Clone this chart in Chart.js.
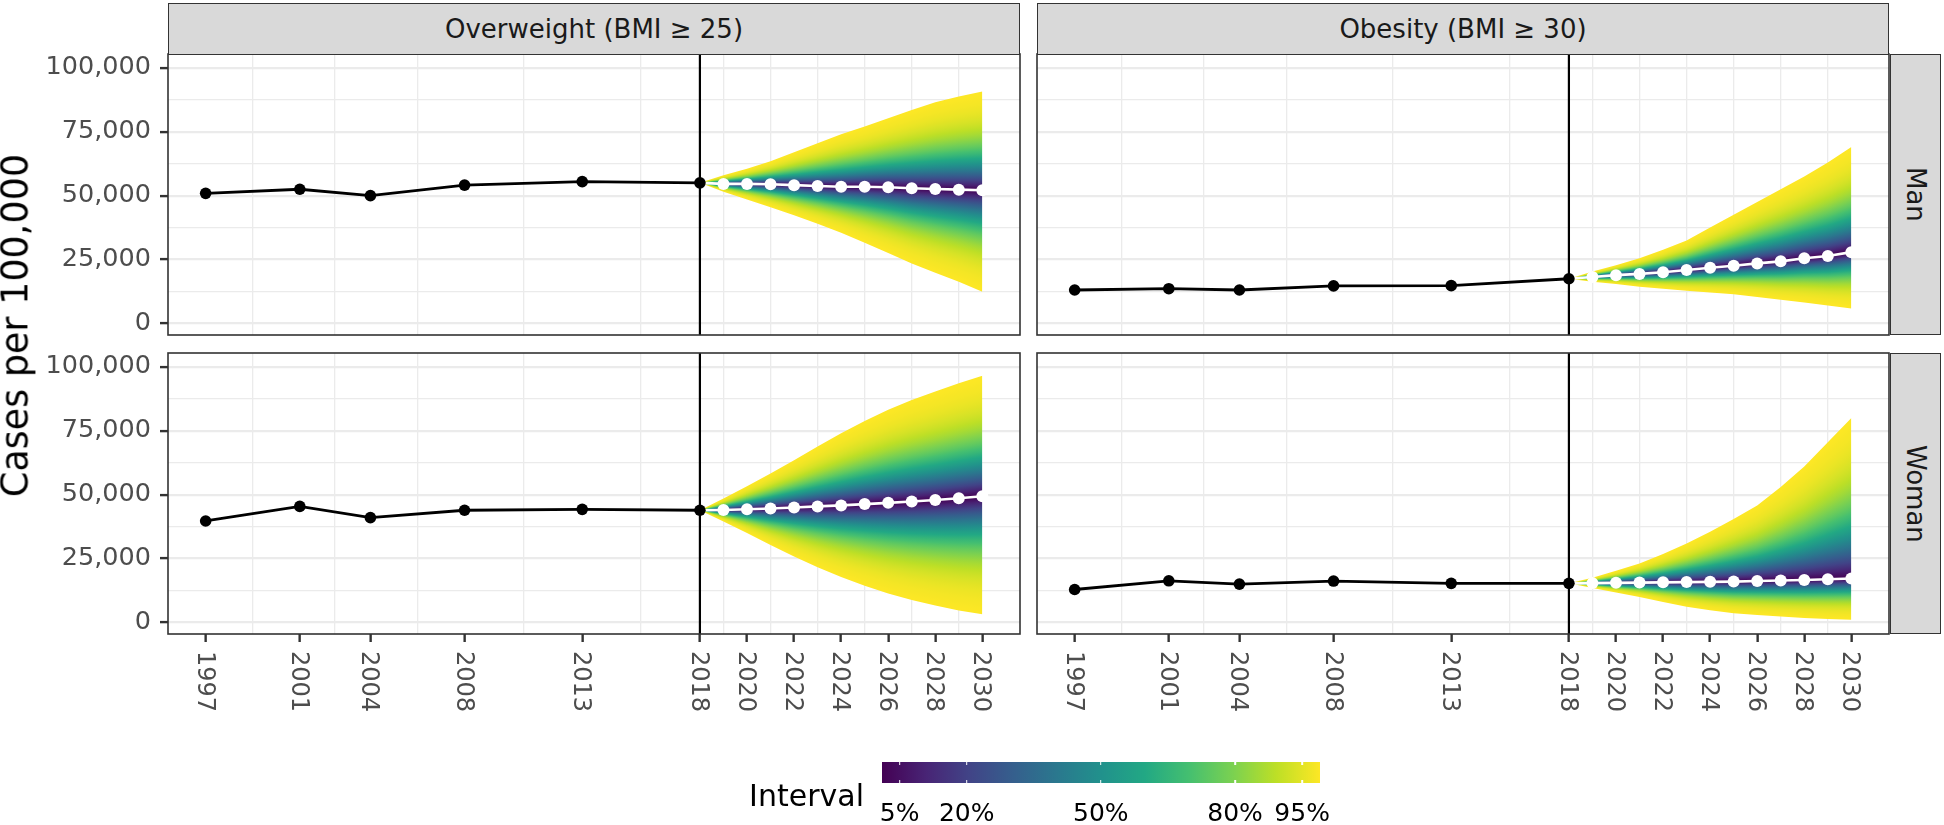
<!DOCTYPE html>
<html>
<head>
<meta charset="utf-8">
<script src="https://cdn.jsdelivr.net/npm/chart.js@4.4.1/dist/chart.umd.min.js"></script>
<style>
  body { margin: 0; background: #fff; font-family: "DejaVu Sans", sans-serif; }
  #figure { position: relative; width: 1944px; height: 825px; overflow: hidden; background: #fff; }
  #figure canvas { position: absolute; left: 0; top: 0; }
  .strip { position: absolute; box-sizing: border-box; background: #d9d9d9; border: 1.6px solid #333;
           color: #1a1a1a; font-size: 26px; display: flex; align-items: center; justify-content: center; }
  .strip.side span { writing-mode: vertical-rl; }
  .xlab { position: absolute; writing-mode: vertical-rl; transform: translateX(-50%); font-size: 24px;
          line-height: 1; color: #4d4d4d; white-space: nowrap; }
  #ytitle { position: absolute; left: 0; top: 0; font-size: 36.5px; color: #000; white-space: nowrap;
            writing-mode: vertical-rl; transform: rotate(180deg); line-height: 1; }
  #legend-title { position: absolute; right: 1080px; top: 781px; font-size: 30px; line-height: 1; color: #000; }
  #colorbar { position: absolute; left: 881.7px; top: 761.7px; width: 438.3px; height: 21.6px; }
  .cbtick { position: absolute; width: 1.6px; height: 3.6px; background: #fff; transform: translateX(-50%); }
  .cblab { position: absolute; top: 800px; font-size: 25px; line-height: 1; color: #000; transform: translateX(-50%); white-space: nowrap; }
</style>
</head>
<body>
<div id="figure">
  <canvas id="c00" width="1944" height="825"></canvas>
  <canvas id="c10" width="1944" height="825"></canvas>
  <canvas id="c01" width="1944" height="825"></canvas>
  <canvas id="c11" width="1944" height="825"></canvas>
</div>
<script>
// ---- data (cases per 100,000) ----
const OBS_YEARS = [1997, 2001, 2004, 2008, 2013, 2018];
const FC_YEARS = [2018, 2019, 2020, 2021, 2022, 2023, 2024, 2025, 2026, 2027, 2028, 2029, 2030];
const X_MAJOR = [1997, 2001, 2004, 2008, 2013, 2018, 2020, 2022, 2024, 2026, 2028, 2030];
const X_MINOR = [1999, 2002.5, 2006, 2010.5, 2015.5, 2019, 2021, 2023, 2025, 2027, 2029];
const Y_MAJOR = [0, 25000, 50000, 75000, 100000];
const Y_MINOR = [12500, 37500, 62500, 87500];
const VLINE_YEAR = 2018;
const COLUMN_LABELS = ["Overweight (BMI \u2265 25)", "Obesity (BMI \u2265 30)"];
const ROW_LABELS = ["Man", "Woman"];
const Y_TITLE = "Cases per 100,000";
const LEGEND_TITLE = "Interval";
const LEGEND_BREAKS = [5, 20, 50, 80, 95];
const LEGEND_LIMITS = [1, 99];

const overweightManObs = [50900, 52500, 50000, 54100, 55500, 55000];
const overweightManMedian = [55000, 54600, 54600, 54450, 54100, 53800, 53500, 53500, 53300, 52900, 52600, 52350, 52100];
const overweightManUpper = [55000, 58000, 60500, 63500, 67000, 70500, 74000, 77000, 80300, 83500, 86500, 88800, 90700];
const overweightManLower = [55000, 51500, 48500, 45500, 42300, 39000, 35500, 31600, 27600, 23500, 19800, 16300, 12400];

const obesityManObs = [13100, 13600, 13100, 14700, 14800, 17500];
const obesityManMedian = [17500, 18200, 18900, 19400, 20050, 20900, 21800, 22600, 23500, 24300, 25500, 26400, 27900];
const obesityManUpper = [17500, 20300, 22800, 25500, 28800, 32500, 37500, 42500, 47500, 52500, 57500, 63000, 69000];
const obesityManLower = [17500, 16300, 15400, 14400, 13600, 12800, 12100, 11400, 10400, 9300, 8200, 7000, 5900];

const overweightWomanObs = [39700, 45400, 41000, 43900, 44250, 43900];
const overweightWomanMedian = [43900, 44000, 44300, 44600, 45000, 45400, 45800, 46300, 46800, 47300, 47900, 48600, 49400];
const overweightWomanUpper = [43900, 48500, 53300, 58300, 63500, 68800, 74000, 78800, 83200, 87000, 90300, 93600, 96500];
const overweightWomanLower = [43900, 39500, 35000, 30300, 25800, 21600, 17800, 14400, 11300, 8800, 6600, 4700, 3200];

const obesityWomanObs = [12900, 16300, 15000, 16200, 15300, 15300];
const obesityWomanMedian = [15300, 15400, 15500, 15600, 15700, 15800, 15900, 16000, 16200, 16400, 16600, 16900, 17200];
const obesityWomanUpper = [15300, 17500, 20200, 23100, 26800, 30900, 35500, 40500, 45800, 53000, 61000, 70500, 80000];
const obesityWomanLower = [15300, 13500, 11700, 10000, 8000, 6200, 4800, 3600, 2900, 2300, 1800, 1400, 1100];

// ---- layout ----
const X_MIN = 1995.4, X_MAX = 2031.6;
const Y_MIN = -4500, Y_MAX = 105400;
const PANEL_X = [[168, 1020], [1037, 1889]];
const PANEL_Y = [[54, 335], [353, 634]];
const X_AXIS_H = 10;
const W = 1944, H = 825;

const PANELS = [
  { id: "c00", col: 0, row: 0, obs: overweightManObs, median: overweightManMedian, upper: overweightManUpper, lower: overweightManLower },
  { id: "c10", col: 1, row: 0, obs: obesityManObs, median: obesityManMedian, upper: obesityManUpper, lower: obesityManLower },
  { id: "c01", col: 0, row: 1, obs: overweightWomanObs, median: overweightWomanMedian, upper: overweightWomanUpper, lower: overweightWomanLower },
  { id: "c11", col: 1, row: 1, obs: obesityWomanObs, median: obesityWomanMedian, upper: obesityWomanUpper, lower: obesityWomanLower },
];

// viridis colour ramp
const VIRIDIS = ["#440154", "#482475", "#414487", "#355f8d", "#2a788e", "#21918c", "#22a884", "#44bf70", "#7ad151", "#bddf26", "#fde725"];
const hexRgb = h => [1, 3, 5].map(i => parseInt(h.substr(i, 2), 16));
function viridis(t) {
  t = Math.min(1, Math.max(0, t));
  const s = t * 10, i = Math.min(9, Math.floor(s)), f = s - i;
  const a = hexRgb(VIRIDIS[i]), b = hexRgb(VIRIDIS[i + 1]);
  return "rgb(" + a.map((v, k) => Math.round(v + (b[k] - v) * f)).join(",") + ")";
}
function erf(x) {
  const t = 1 / (1 + 0.3275911 * x);
  return 1 - (((((1.061405429 * t - 1.453152027) * t) + 1.421413741) * t - 0.284496736) * t + 0.254829592) * t * Math.exp(-x * x);
}
// colour stops across half of the fan: f = distance from median / outer half-width
const Z_OUTER = 2.576;
const FAN_STOPS = [];
for (let k = 0; k <= 40; k++) {
  const f = k / 40;
  const q = erf(f * Z_OUTER / Math.SQRT2);
  FAN_STOPS.push([f, viridis((q * 100 - LEGEND_LIMITS[0]) / (LEGEND_LIMITS[1] - LEGEND_LIMITS[0]))]);
}

// fill pattern for the fan, built from the chart's own scales
function fanPattern(chart, p) {
  const area = chart.chartArea;
  if (!area) return "rgba(0,0,0,0)";
  const key = [area.left, area.top, area.right, area.bottom].join();
  if (chart.$fanKey === key) return chart.$fanPattern;
  const xs = chart.scales.x, ys = chart.scales.y;
  const off = document.createElement("canvas");
  off.width = chart.width; off.height = chart.height;
  const g = off.getContext("2d");
  const px = FC_YEARS.map(v => xs.getPixelForValue(v));
  const hi = p.upper.map(v => ys.getPixelForValue(v));
  const md = p.median.map(v => ys.getPixelForValue(v));
  const lo = p.lower.map(v => ys.getPixelForValue(v));
  for (let i = 0; i < px.length - 1; i++) {
    const x0 = i === 0 ? Math.floor(px[i]) - 1 : Math.floor(px[i]);
    const x1 = i === px.length - 2 ? Math.ceil(px[i + 1]) + 1 : Math.ceil(px[i + 1]);
    for (let x = x0; x < x1; x++) {
      const t = Math.min(1, Math.max(0, (x + 0.5 - px[i]) / (px[i + 1] - px[i])));
      const yHi = hi[i] + (hi[i + 1] - hi[i]) * t;
      const yMd = md[i] + (md[i + 1] - md[i]) * t;
      const yLo = lo[i] + (lo[i + 1] - lo[i]) * t;
      if (yLo - yHi < 0.5) continue;
      const pm = Math.min(1, Math.max(0, (yMd - yHi) / (yLo - yHi)));
      const grad = g.createLinearGradient(0, yHi, 0, yLo);
      FAN_STOPS.forEach(([f, col]) => {
        grad.addColorStop(pm * (1 - f), col);
        grad.addColorStop(pm + (1 - pm) * f, col);
      });
      g.fillStyle = grad;
      g.fillRect(x, yHi - 2, 1, yLo - yHi + 4);
    }
  }
  chart.$fanKey = key;
  chart.$fanPattern = chart.ctx.createPattern(off, "no-repeat");
  return chart.$fanPattern;
}

const panelBorder = {
  id: "panelBorder",
  afterDraw(chart) {
    const { ctx, chartArea: a } = chart;
    ctx.save();
    ctx.strokeStyle = "#333";
    ctx.lineWidth = 1.6;
    ctx.strokeRect(a.left, a.top, a.right - a.left, a.bottom - a.top);
    ctx.restore();
  }
};

const CLEAR = "rgba(0,0,0,0)";
const charts = PANELS.map(p => {
  const leftCol = p.col === 0, bottomRow = p.row === 1;
  const datasets = [
    { // observed
      data: OBS_YEARS.map((x, i) => ({ x, y: p.obs[i] })),
      borderColor: "#000", borderWidth: 2.8, backgroundColor: "#000",
      pointRadius: 5.8, pointBackgroundColor: "#000", pointBorderWidth: 0, fill: false
    },
    { // forecast median
      data: FC_YEARS.map((x, i) => ({ x, y: p.median[i] })),
      borderColor: "#fff", borderWidth: 2.6, backgroundColor: "#fff",
      pointRadius: ctx => FC_YEARS[ctx.dataIndex] === VLINE_YEAR ? 0 : 6,
      pointBackgroundColor: "#fff", pointBorderWidth: 0, fill: false
    },
    { // reference year
      data: [{ x: VLINE_YEAR, y: Y_MIN }, { x: VLINE_YEAR, y: Y_MAX }],
      borderColor: "#000", borderWidth: 2.2, pointRadius: 0, fill: false
    },
    { // outer interval, upper edge
      data: FC_YEARS.map((x, i) => ({ x, y: p.upper[i] })),
      borderColor: CLEAR, borderWidth: 0, pointRadius: 0, pointBackgroundColor: CLEAR,
      backgroundColor: ctx => fanPattern(ctx.chart, p), fill: "+1"
    },
    { // outer interval, lower edge
      data: FC_YEARS.map((x, i) => ({ x, y: p.lower[i] })),
      borderColor: CLEAR, borderWidth: 0, pointRadius: 0, pointBackgroundColor: CLEAR, fill: false
    }
  ];
  return new Chart(document.getElementById(p.id), {
    type: "line",
    data: { datasets },
    plugins: [panelBorder],
    options: {
      responsive: false, animation: false, devicePixelRatio: 1, events: [],
      layout: {
        padding: {
          left: leftCol ? 0 : PANEL_X[p.col][0],
          right: W - PANEL_X[p.col][1],
          top: PANEL_Y[p.row][0],
          bottom: H - PANEL_Y[p.row][1] - (bottomRow ? X_AXIS_H : 0)
        }
      },
      plugins: { legend: { display: false }, tooltip: { enabled: false } },
      elements: { line: { tension: 0 } },
      scales: {
        x: {
          type: "linear", min: X_MIN, max: X_MAX,
          afterBuildTicks: s => { s.ticks = X_MAJOR.concat(X_MINOR).sort((a, b) => a - b).map(value => ({ value })); },
          afterFit: s => { s.height = bottomRow ? X_AXIS_H : 0; },
          ticks: { display: false },
          border: { display: false },
          grid: {
            color: c => X_MINOR.includes(c.tick.value) ? "#ebebeb" : CLEAR,
            lineWidth: 1.3,
            drawTicks: bottomRow, tickLength: 8, tickWidth: 2.4,
            tickColor: c => X_MAJOR.includes(c.tick.value) ? "#333" : CLEAR
          }
        },
        y: {
          type: "linear", min: Y_MIN, max: Y_MAX,
          afterBuildTicks: s => { s.ticks = Y_MAJOR.concat(Y_MINOR).sort((a, b) => a - b).map(value => ({ value })); },
          afterFit: s => { s.width = leftCol ? PANEL_X[0][0] : 0; },
          border: { display: false },
          ticks: {
            display: leftCol, autoSkip: false, padding: 9, color: "#4d4d4d",
            font: { family: "DejaVu Sans", size: 25.5 },
            callback: v => Y_MAJOR.includes(v) ? v.toLocaleString("en-US") : ""
          },
          grid: {
            color: "#ebebeb",
            lineWidth: c => Y_MAJOR.includes(c.tick.value) ? 2.2 : 1.2,
            drawTicks: leftCol, tickLength: 8, tickWidth: 2.4,
            tickColor: c => Y_MAJOR.includes(c.tick.value) ? "#333" : CLEAR
          }
        }
      }
    }
  });
});

// ---- facet strips, axis labels, legend (HTML text) ----
const fig = document.getElementById("figure");
function el(cls, css, text) {
  const d = document.createElement("div");
  if (cls) d.className = cls;
  Object.assign(d.style, css);
  if (text !== undefined) d.textContent = text;
  fig.appendChild(d);
  return d;
}
COLUMN_LABELS.forEach((t, c) => {
  el("strip", { left: PANEL_X[c][0] + "px", top: "3px", width: (PANEL_X[c][1] - PANEL_X[c][0]) + "px", height: (PANEL_Y[0][0] - 2) + "px" }, t);
});
ROW_LABELS.forEach((t, r) => {
  const s = el("strip side", { left: "1890px", top: PANEL_Y[r][0] + "px", width: "51px", height: (PANEL_Y[r][1] - PANEL_Y[r][0]) + "px" });
  const sp = document.createElement("span"); sp.textContent = t; s.appendChild(sp);
});
// x tick labels for the bottom row, placed with the chart's x scale
charts.filter((c, i) => PANELS[i].row === 1).forEach(ch => {
  X_MAJOR.forEach(year => {
    el("xlab", { left: ch.scales.x.getPixelForValue(year) + "px", top: "651px" }, String(year));
  });
});
const yt = el(null, {}, Y_TITLE); yt.id = "ytitle";
const ytr = yt.getBoundingClientRect();
yt.style.left = (16 - ytr.width / 2) + "px";
yt.style.top = (326 - ytr.height / 2) + "px";

const lt = el(null, {}, LEGEND_TITLE); lt.id = "legend-title";
const cb = el(null, { background: "linear-gradient(to right," + VIRIDIS.join(",") + ")" }); cb.id = "colorbar";
const cbLeft = 881.7, cbW = 438.3;
LEGEND_BREAKS.forEach(v => {
  const rel = (v - LEGEND_LIMITS[0]) / (LEGEND_LIMITS[1] - LEGEND_LIMITS[0]) * cbW;
  const t1 = document.createElement("div"); t1.className = "cbtick"; t1.style.left = rel + "px"; t1.style.top = "0px"; cb.appendChild(t1);
  const t2 = document.createElement("div"); t2.className = "cbtick"; t2.style.left = rel + "px"; t2.style.bottom = "0px"; cb.appendChild(t2);
  el("cblab", { left: (cbLeft + rel) + "px" }, v + "%");
});
</script>
</body>
</html>
